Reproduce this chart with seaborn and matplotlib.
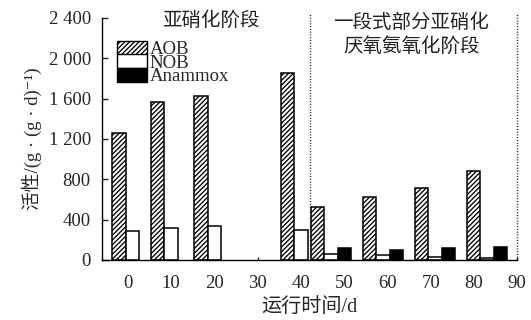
import numpy as np
import pandas as pd
import matplotlib
matplotlib.use("Agg")
import matplotlib.pyplot as plt
import matplotlib.patches as mpatches
from matplotlib.ticker import FuncFormatter
import seaborn as sns
#------------------------------------
# Data
days = [1, 10, 20, 40, 47, 59, 71, 83]
aob = [1260, 1570, 1620, 1850, 530, 620, 710, 880]
nob = [285, 315, 335, 300, 60, 46, 26, 20]
anammox = [np.nan, np.nan, np.nan, np.nan, 115, 100, 120, 132]
series = ["AOB", "NOB", "Anammox"]
x_ticks = [0, 10, 20, 30, 40, 50, 60, 70, 80, 90]
y_ticks = [0, 400, 800, 1200, 1600, 2000, 2400]
phase_split = 42
phase_end = 90
phase1_label = "亚硝化阶段"
phase2_label = "一段式部分亚硝化\n厌氧氨氧化阶段"

df = pd.DataFrame({"day": days, "AOB": aob, "NOB": nob, "Anammox": anammox})
long_df = df.melt(id_vars="day", var_name="type", value_name="activity").dropna()
#------------------------------------
sns.set_style("ticks")
plt.rcParams["font.family"] = ["Liberation Serif", "Noto Sans CJK SC", "DejaVu Serif"]
plt.rcParams["hatch.linewidth"] = 0.95

fig = plt.figure(figsize=(5.31, 3.20), dpi=100)
ax = fig.add_axes([0.192, 0.1875, 0.782, 0.757])

bar_w = 3.1
width = bar_w * len(series) / np.diff(days).min()
sns.barplot(data=long_df, x="day", y="activity", hue="type", hue_order=series,
            native_scale=True, width=width, errorbar=None,
            palette={"AOB": "white", "NOB": "white", "Anammox": "black"},
            edgecolor="black", linewidth=1.1, legend=False, ax=ax)
for patch in ax.containers[0]:
    patch.set_hatch("///////")

# phase separators
ax.vlines([phase_split, phase_end], 0, 2440, colors="#222222",
          linestyles=(0, (0.8, 1.2)), linewidth=1, clip_on=False)
ax.text(19.2, 2370, phase1_label, ha="center", va="center", fontsize=14,
        family=["Noto Sans CJK SC"], color="#222222")
ax.text(65.5, 2235, phase2_label, ha="center", va="center", fontsize=14,
        family=["Noto Sans CJK SC"], color="#222222", linespacing=1.2)

ax.set_xlim(-6, 90)
ax.set_ylim(0, 2400)
ax.set_xticks(x_ticks)
ax.set_xticklabels([str(t) for t in x_ticks])
ax.set_yticks(y_ticks)
ax.yaxis.set_major_formatter(FuncFormatter(lambda v, p: f"{v:,.0f}".replace(",", " ")))
ax.tick_params(axis="y", direction="in", length=4, width=1, pad=8, labelsize=13.5)
ax.tick_params(axis="x", direction="in", length=2, width=1, pad=11, labelsize=13.5)
sns.despine(ax=ax, top=True, right=True)
for s in ["left", "bottom"]:
    ax.spines[s].set_linewidth(1)
    ax.spines[s].set_color("black")

ax.set_xlabel("运行时间/d", fontsize=14.5, labelpad=5)
ax.set_ylabel("活性/(g · (g · d)⁻¹)", fontsize=13.5, labelpad=5)

handles = [
    mpatches.Patch(facecolor="white", edgecolor="black", hatch="///////", label="AOB"),
    mpatches.Patch(facecolor="white", edgecolor="black", label="NOB"),
    mpatches.Patch(facecolor="black", edgecolor="black", label="Anammox"),
]
ax.legend(handles=handles, loc="upper left", bbox_to_anchor=(0.036, 0.905),
          frameon=False, fontsize=13.5, handlelength=1.6, handleheight=0.78,
          labelspacing=-0.22, handletextpad=0.15, borderpad=0, borderaxespad=0)

fig.savefig("out.png", dpi=100)
